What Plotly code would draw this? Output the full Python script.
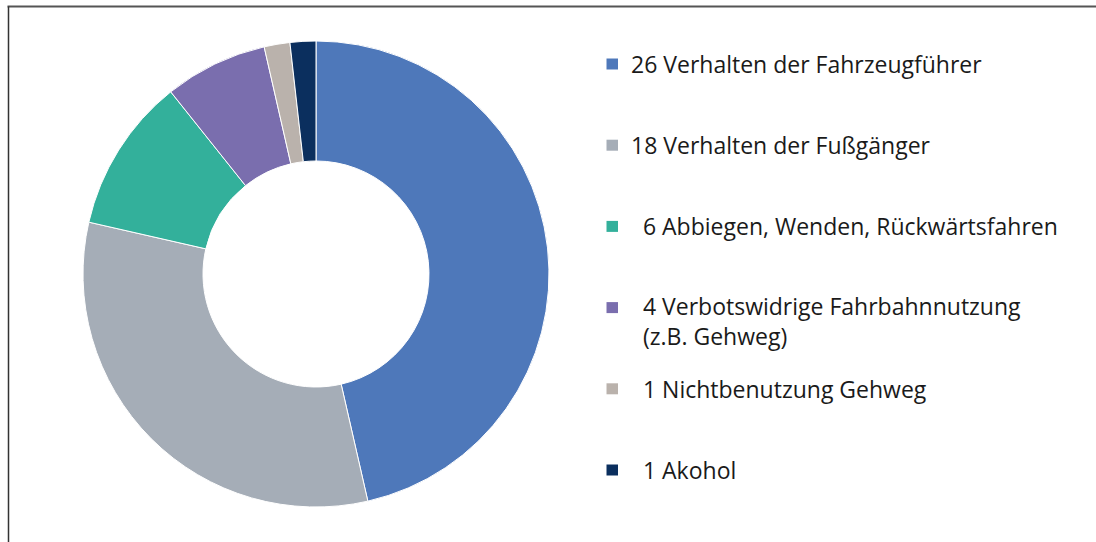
import plotly.graph_objects as go

W, H = 1096, 542

labels = [
    "26 Verhalten der Fahrzeugführer",
    "18 Verhalten der Fußgänger",
    "\u00a0\u00a06 Abbiegen, Wenden, Rückwärtsfahren",
    "\u00a0\u00a04 Verbotswidrige Fahrbahnnutzung\n\u00a0\u00a0(z.B. Gehweg)",
    "\u00a0\u00a01 Nichtbenutzung Gehweg",
    "\u00a0\u00a01 Akohol",
]
values = [26, 18, 6, 4, 1, 1]
colors = ["#4E78BA", "#A5ADB7", "#33B09B", "#7A6EAE", "#BAB2AC", "#0B2F5E"]

fig = go.Figure()

cx, cy, r = 316, 274, 233
fig.add_trace(go.Pie(
    labels=[l.replace("\n", " ") for l in labels],
    values=values,
    hole=0.485,
    sort=False,
    direction="clockwise",
    rotation=0,
    textinfo="none",
    showlegend=False,
    marker=dict(colors=colors, line=dict(color="white", width=1)),
    domain=dict(x=[(cx - r) / W, (cx + r) / W], y=[(H - cy - r) / H, (H - cy + r) / H]),
))

def px(x):
    return x / W

def py(y):
    return 1 - y / H

fsize = 23
font = dict(family="'Open Sans', 'Noto Sans', sans-serif", size=fsize, color="#1a1a1a")
y0, step = 64, 81.2
lh = 1.3 * fsize
for i, (lab, col) in enumerate(zip(labels, colors)):
    yc = y0 + i * step
    fig.add_shape(type="rect", xref="paper", yref="paper",
                  x0=px(606.5), x1=px(618), y0=py(yc - 5.5), y1=py(yc + 5.5),
                  fillcolor=col, line=dict(width=0))
    lines = lab.split("\n")
    n = len(lines)
    ymid = yc + (n - 1) * lh / 2 - (2 if n > 1 else 0)
    fig.add_annotation(x=px(629), y=py(ymid), xref="paper", yref="paper",
                       text="<br>".join(lines), showarrow=False, xanchor="left",
                       yanchor="middle", align="left", font=font)

# frame lines
fig.add_shape(type="line", xref="paper", yref="paper", x0=px(7.5), x1=1, y0=py(6.5), y1=py(6.5),
              line=dict(color="#555555", width=2))
fig.add_shape(type="line", xref="paper", yref="paper", x0=px(8.5), x1=px(8.5), y0=py(6.5), y1=0,
              line=dict(color="#333333", width=1.5))

fig.update_layout(width=W, height=H, margin=dict(l=0, r=0, t=0, b=0),
                  paper_bgcolor="white", plot_bgcolor="white", showlegend=False)

fig.write_html("out.html", config={"displayModeBar": False},
               post_script="document.body.style.margin='0px';document.body.style.overflow='hidden';")
